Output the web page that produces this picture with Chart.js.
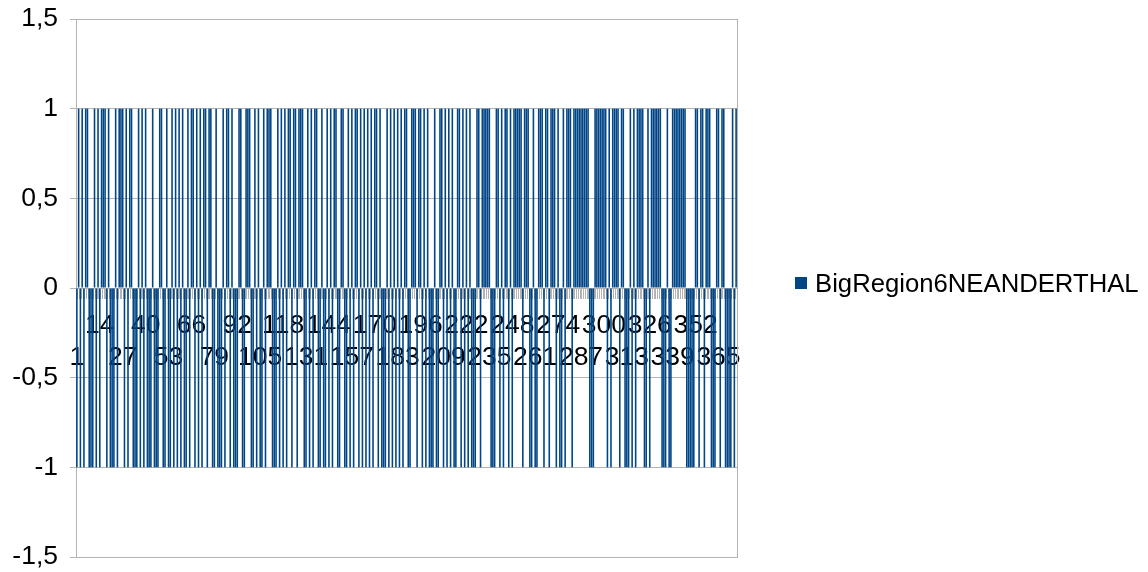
<!DOCTYPE html>
<html>
<head>
<meta charset="utf-8">
<script src="https://cdn.jsdelivr.net/npm/chart.js@4"></script>
<style>
  html, body { margin: 0; padding: 0; background: #fff; }
  #wrap { position: relative; width: 1148px; height: 572px; }
  #legend {
    position: absolute; left: 795px; top: 268px; height: 30px;
    display: flex; align-items: center;
    font: 25.7px "Liberation Sans", Arial, sans-serif; color: #000;
  }
  #legend .box { width: 12px; height: 12px; background: #004586; margin-right: 8px; }
</style>
</head>
<body>
<div id="wrap">
  <canvas id="chart"></canvas>
  <div id="legend"><span class="box"></span><span id="legendText"></span></div>
</div>
<script>
const seriesName = 'BigRegion6NEANDERTHAL';

// one value per category (+1 / -1)
const values = [
  -1, 1,-1, 1,-1, 1, 1,-1,-1,-1, 1,-1, 1,-1, 1, 1, 1,-1, 1,-1,-1,-1, 1,-1, 1,
   1, 1,-1, 1,-1, 1, 1,-1,-1,-1, 1,-1, 1,-1, 1,-1,-1,-1, 1,-1,-1,-1, 1, 1,-1,
  -1, 1,-1,-1, 1,-1, 1,-1, 1,-1, 1,-1,-1, 1,-1, 1, 1,-1, 1,-1, 1,-1, 1, 1,-1,
   1, 1,-1,-1, 1,-1,-1,-1, 1,-1, 1, 1,-1, 1,-1,-1,-1, 1, 1,-1,-1, 1, 1, 1,-1,
  -1, 1,-1, 1,-1,-1, 1,-1, 1, 1, 1,-1,-1,-1, 1,-1, 1,-1, 1,-1, 1, 1,-1, 1, 1,
  -1, 1, 1, 1,-1,-1, 1,-1, 1,-1, 1, 1,-1,-1, 1,-1,-1, 1,-1, 1,-1, 1, 1,-1,-1,
   1, 1,-1,-1, 1,-1, 1,-1, 1, 1,-1, 1,-1, 1,-1, 1,-1, 1,-1, 1, 1,-1, 1,-1,-1,
  -1, 1,-1, 1,-1, 1,-1, 1,-1, 1,-1, 1, 1,-1,-1, 1, 1, 1,-1, 1, 1,-1, 1,-1, 1,
  -1,-1,-1, 1,-1,-1, 1, 1,-1, 1,-1, 1,-1, 1,-1,-1, 1, 1,-1, 1,-1, 1,-1, 1,-1,
  -1,-1, 1, 1,-1, 1, 1, 1, 1, 1,-1,-1,-1, 1, 1,-1, 1,-1, 1, 1,-1, 1,-1, 1, 1,
   1, 1, 1,-1, 1, 1, 1,-1,-1, 1,-1,-1, 1, 1, 1,-1, 1, 1,-1, 1, 1, 1,-1, 1,-1,
  -1, 1,-1, 1, 1, 1,-1, 1, 1, 1, 1, 1, 1, 1, 1, 1,-1,-1,-1, 1, 1, 1, 1, 1, 1,
   1,-1, 1,-1, 1, 1, 1, 1,-1, 1, 1,-1,-1,-1, 1,-1, 1,-1, 1, 1, 1, 1,-1,-1, 1,
  -1, 1, 1, 1, 1, 1, 1,-1,-1,-1, 1,-1,-1, 1, 1, 1, 1, 1, 1, 1, 1,-1,-1,-1,-1,
  -1, 1, 1,-1, 1, 1,-1, 1, 1, 1,-1,-1,-1, 1, 1,-1, 1, 1,-1,-1,-1,-1, 1,-1, 1
];

// categories are numbered 1, 2, 3 ...
const categories = values.map((v, i) => String(i + 1));

const labelStep = 13;
const yMin = -1.5, yMax = 1.5, yStep = 0.5;

const gray = '#b3b3b3';
const blue = '#004586';
const font = { family: '"Liberation Sans", Arial, sans-serif', size: 26.5 };

document.getElementById('legendText').textContent = seriesName;

new Chart(document.getElementById('chart'), {
  type: 'bar',
  data: {
    labels: categories,
    datasets: [{
      label: seriesName,
      data: values,
      backgroundColor: blue,
      borderWidth: 0,
      categoryPercentage: 1,
      barPercentage: 0.9
    }]
  },
  options: {
    responsive: true,
    maintainAspectRatio: false,
    animation: false,
    layout: { padding: { top: 19, right: 411, bottom: 15, left: 0 } },
    plugins: {
      legend: { display: false },
      tooltip: { enabled: false }
    },
    scales: {
      x: {
        position: { y: 0 },
        z: 1,
        grid: { drawOnChartArea: false, drawTicks: true, tickLength: 10, color: gray, offset: true },
        border: { color: gray },
        ticks: {
          autoSkip: false,
          maxRotation: 0,
          minRotation: 0,
          padding: 12,
          color: '#000',
          font: font,
          callback: function (val, index) {
            if (index % labelStep !== 0) return '';
            const lbl = this.getLabelForValue(val);
            return (index / labelStep) % 2 === 0 ? ['', lbl] : [lbl];
          }
        },
        afterFit: s => { s.paddingLeft = 0; s.paddingRight = 0; }
      },
      y: {
        min: yMin,
        max: yMax,
        grid: { color: gray, tickLength: 6 },
        border: { color: gray },
        ticks: {
          stepSize: yStep,
          padding: 12,
          color: '#000',
          font: font,
          callback: v => String(v).replace('.', ',')
        },
        afterFit: s => { s.width = 76; s.paddingTop = 0; s.paddingBottom = 0; }
      },
      y2: {
        position: 'right',
        grid: { display: false },
        border: { color: gray },
        ticks: { display: false },
        afterFit: s => { s.width = 0; s.paddingTop = 0; s.paddingBottom = 0; }
      }
    }
  }
});
</script>
</body>
</html>
